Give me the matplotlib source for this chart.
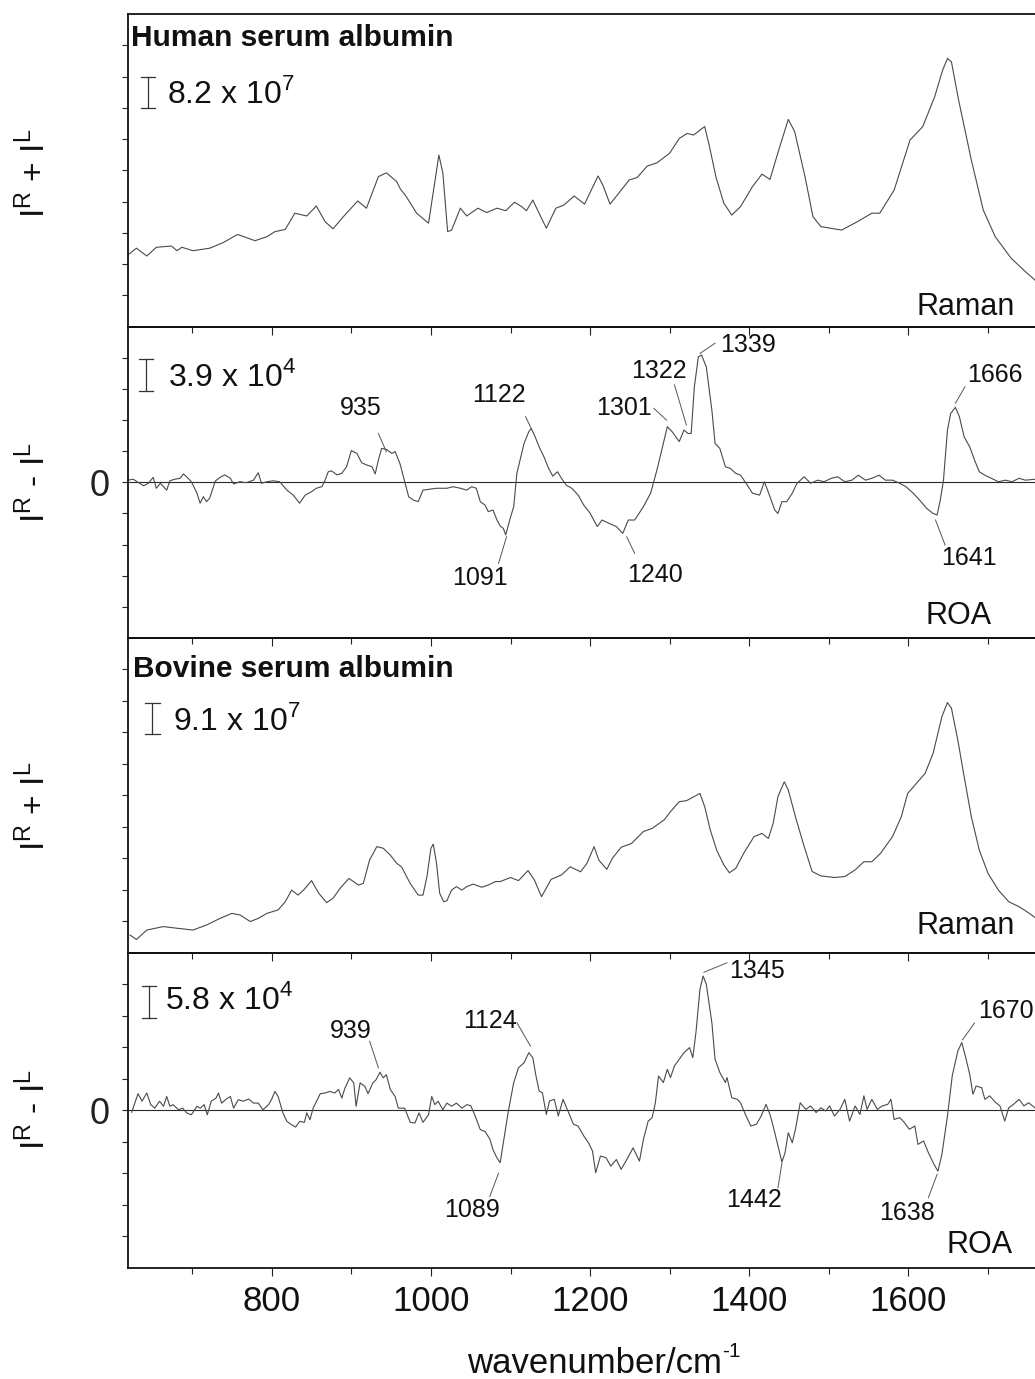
import matplotlib
matplotlib.use('Agg')
import matplotlib.pyplot as plt

# ---------------- data ----------------
# Human serum albumin, Raman (I^R + I^L), arbitrary units (one tick = 1)
hsa_raman_x = [619, 630, 643, 655, 674, 681, 687, 701, 722, 739, 757, 779, 794, 804, 817, 829, 844, 856, 867, 877,
               890, 908, 919, 934, 944, 957, 961, 969, 982, 997, 1004, 1010, 1015, 1021, 1026, 1037, 1045, 1059, 1070,
               1083, 1094, 1105, 1114, 1120, 1128, 1134, 1145, 1157, 1167, 1180, 1193, 1210, 1216, 1225, 1236, 1249,
               1259, 1272, 1284, 1300, 1312, 1322, 1330, 1344, 1350, 1358, 1368, 1378, 1389, 1404, 1416, 1426, 1437,
               1449, 1457, 1470, 1480, 1490, 1516, 1536, 1554, 1564, 1582, 1602, 1618, 1633, 1643, 1649, 1654, 1663,
               1679, 1694, 1709, 1729, 1747, 1759]
hsa_raman_y = [2.29, 2.51, 2.26, 2.54, 2.58, 2.43, 2.54, 2.43, 2.51, 2.69, 2.95, 2.75, 2.88, 3.04, 3.11, 3.63, 3.54,
               3.86, 3.36, 3.13, 3.52, 4.02, 3.79, 4.80, 4.92, 4.64, 4.43, 4.16, 3.63, 3.31, 4.48, 5.49, 4.91, 3.04,
               3.09, 3.79, 3.54, 3.79, 3.65, 3.79, 3.71, 3.98, 3.84, 3.71, 4.05, 3.73, 3.15, 3.79, 3.89, 4.18, 3.92,
               4.82, 4.53, 3.92, 4.27, 4.69, 4.77, 5.14, 5.24, 5.55, 6.02, 6.18, 6.13, 6.40, 5.76, 4.80, 3.95, 3.57,
               3.84, 4.48, 4.88, 4.71, 5.65, 6.63, 6.24, 4.80, 3.52, 3.20, 3.09, 3.36, 3.63, 3.63, 4.37, 5.97, 6.40,
               7.36, 8.21, 8.58, 8.47, 7.25, 5.33, 3.73, 2.88, 2.19, 1.76, 1.49]

# Human serum albumin, ROA (I^R - I^L), one tick = 1
hsa_roa_x = [619, 626, 632, 639, 645, 651, 655, 660, 664, 668, 672, 678, 685, 689, 693, 699, 706, 710, 714, 718, 722,
             729, 735, 741, 748, 752, 760, 768, 777, 783, 787, 794, 802, 810, 819, 827, 835, 842, 850, 856, 863, 867,
             871, 875, 882, 888, 894, 900, 907, 913, 919, 926, 930, 934, 938, 944, 951, 955, 961, 967, 972, 978, 984,
             990, 999, 1007, 1020, 1028, 1037, 1045, 1051, 1057, 1062, 1068, 1072, 1078, 1083, 1087, 1091, 1094,
             1099, 1104, 1108, 1112, 1117, 1123, 1126, 1130, 1136, 1142, 1147, 1153, 1159, 1164, 1170, 1177, 1185,
             1192, 1200, 1209, 1215, 1224, 1233, 1241, 1248, 1256, 1267, 1276, 1284, 1291, 1297, 1303, 1312, 1318,
             1323, 1327, 1331, 1336, 1340, 1346, 1353, 1357, 1363, 1370, 1376, 1383, 1389, 1396, 1404, 1413, 1419,
             1426, 1432, 1436, 1441, 1447, 1454, 1460, 1469, 1477, 1486, 1494, 1503, 1511, 1520, 1529, 1537, 1546,
             1554, 1563, 1571, 1580, 1589, 1597, 1606, 1614, 1623, 1631, 1636, 1640, 1644, 1649, 1653, 1659, 1664,
             1670, 1677, 1683, 1689, 1696, 1704, 1713, 1722, 1730, 1739, 1747, 1759]
hsa_roa_y = [0.07, 0.10, 0.00, -0.11, -0.03, 0.16, -0.19, -0.03, -0.14, -0.25, 0.05, 0.10, 0.13, 0.27, 0.18, 0.02,
             -0.35, -0.67, -0.46, -0.62, -0.51, 0.04, 0.16, 0.24, 0.13, -0.05, 0.02, -0.01, 0.07, 0.31, -0.03, 0.02,
             0.05, 0.02, -0.25, -0.41, -0.67, -0.41, -0.30, -0.19, -0.14, 0.07, 0.34, 0.37, 0.24, 0.29, 0.50, 1.02,
             0.93, 0.63, 0.56, 0.50, 0.27, 0.72, 1.09, 1.06, 0.93, 0.99, 0.61, 0.02, -0.46, -0.57, -0.62, -0.25,
             -0.22, -0.19, -0.19, -0.14, -0.19, -0.25, -0.14, -0.19, -0.62, -0.73, -0.94, -0.89, -1.21, -1.40,
             -1.48, -1.69, -1.21, -0.78, 0.29, 0.72, 1.25, 1.63, 1.73, 1.52, 1.14, 0.82, 0.50, 0.20, 0.34, 0.13,
             -0.09, -0.19, -0.41, -0.73, -0.99, -1.42, -1.21, -1.32, -1.42, -1.64, -1.21, -1.21, -0.78, -0.35,
             0.40, 1.14, 1.79, 1.63, 1.31, 1.68, 1.57, 1.57, 3.07, 4.03, 4.09, 3.71, 2.32, 1.25, 1.09, 0.50, 0.45,
             0.29, 0.23, -0.03, -0.35, -0.41, 0.02, -0.46, -0.89, -1.00, -0.62, -0.62, -0.35, -0.03, 0.18, -0.03,
             0.07, 0.02, 0.13, 0.18, 0.02, 0.07, 0.23, 0.07, 0.13, 0.23, 0.07, 0.07, -0.03, -0.14, -0.35, -0.57,
             -0.84, -1.00, -1.05, -0.57, 0.07, 1.68, 2.21, 2.41, 2.11, 1.46, 1.14, 0.72, 0.34, 0.23, 0.13, 0.02,
             0.07, 0.02, 0.13, 0.07, 0.10]

# Bovine serum albumin, Raman
bsa_raman_x = [622, 630, 643, 664, 680, 701, 718, 735, 750, 760, 773, 783, 794, 808, 817, 825, 833, 840, 850, 859,
               869, 877, 886, 897, 909, 915, 923, 932, 940, 949, 957, 963, 974, 984, 990, 995, 1000, 1003, 1007, 1011,
               1016, 1020, 1026, 1032, 1039, 1045, 1053, 1064, 1072, 1081, 1087, 1100, 1110, 1122, 1130, 1139, 1151,
               1164, 1175, 1188, 1196, 1205, 1211, 1221, 1228, 1239, 1252, 1267, 1278, 1293, 1301, 1312, 1321, 1327,
               1338, 1344, 1351, 1359, 1368, 1375, 1383, 1393, 1406, 1416, 1424, 1430, 1436, 1444, 1449, 1458, 1469,
               1479, 1490, 1507, 1520, 1533, 1544, 1554, 1565, 1580, 1591, 1599, 1610, 1621, 1631, 1642, 1649, 1654,
               1662, 1670, 1679, 1689, 1700, 1713, 1726, 1739, 1749, 1759]
bsa_raman_y = [0.56, 0.42, 0.72, 0.83, 0.78, 0.72, 0.88, 1.09, 1.25, 1.20, 0.99, 1.09, 1.25, 1.36, 1.62, 1.99, 1.83,
               1.99, 2.29, 1.89, 1.59, 1.73, 2.05, 2.36, 2.15, 2.20, 2.95, 3.37, 3.32, 3.10, 2.84, 2.73, 2.20, 1.83,
               1.83, 2.42, 3.32, 3.45, 2.84, 1.89, 1.62, 1.65, 1.99, 2.10, 1.99, 2.10, 2.18, 2.08, 2.15, 2.26, 2.26,
               2.39, 2.29, 2.61, 2.31, 1.78, 2.33, 2.47, 2.73, 2.57, 2.84, 3.37, 2.94, 2.65, 3.00, 3.35, 3.47, 3.85,
               3.95, 4.22, 4.48, 4.80, 4.83, 4.91, 5.06, 4.64, 3.90, 3.26, 2.79, 2.54, 2.68, 3.16, 3.69, 3.79, 3.63,
               4.11, 4.96, 5.43, 5.17, 4.32, 3.37, 2.58, 2.44, 2.39, 2.42, 2.63, 2.89, 2.89, 3.16, 3.69, 4.32, 5.06,
               5.38, 5.70, 6.34, 7.50, 7.95, 7.77, 6.76, 5.59, 4.32, 3.26, 2.52, 1.99, 1.62, 1.46, 1.30, 1.12]

# Bovine serum albumin, ROA
bsa_roa_x = [624, 628, 632, 637, 643, 648, 653, 659, 664, 668, 672, 676, 683, 688, 693, 699, 706, 710, 715, 719, 724,
             730, 733, 737, 743, 748, 752, 758, 764, 771, 777, 783, 789, 796, 800, 804, 808, 814, 819, 825, 830, 835,
             841, 844, 848, 852, 861, 867, 873, 879, 884, 888, 892, 898, 903, 906, 911, 917, 921, 927, 931, 936, 940,
             944, 949, 955, 959, 967, 974, 980, 985, 990, 997, 1001, 1005, 1009, 1015, 1020, 1026, 1032, 1039, 1045,
             1050, 1055, 1062, 1068, 1074, 1078, 1083, 1087, 1091, 1097, 1104, 1110, 1117, 1123, 1128, 1132, 1136,
             1140, 1145, 1149, 1155, 1160, 1166, 1173, 1179, 1185, 1192, 1198, 1203, 1207, 1213, 1220, 1226, 1233,
             1239, 1245, 1254, 1262, 1267, 1273, 1278, 1282, 1286, 1292, 1297, 1301, 1306, 1312, 1318, 1325, 1329,
             1333, 1338, 1342, 1346, 1353, 1357, 1363, 1370, 1372, 1378, 1385, 1389, 1396, 1402, 1409, 1415, 1421,
             1426, 1430, 1436, 1441, 1445, 1449, 1454, 1458, 1464, 1471, 1477, 1484, 1490, 1496, 1501, 1507, 1514,
             1520, 1526, 1533, 1539, 1544, 1548, 1554, 1561, 1567, 1574, 1578, 1582, 1589, 1595, 1601, 1608, 1612,
             1619, 1625, 1631, 1637, 1642, 1649, 1655, 1662, 1667, 1672, 1677, 1681, 1685, 1692, 1696, 1702, 1709,
             1715, 1721, 1726, 1732, 1739, 1745, 1751, 1759]
bsa_roa_y = [-0.06, 0.23, 0.53, 0.29, 0.55, 0.18, 0.07, 0.29, 0.13, 0.44, 0.13, 0.18, 0.02, 0.07, -0.08, -0.14, 0.13,
             0.07, 0.18, -0.14, 0.29, 0.39, 0.55, 0.23, 0.36, 0.44, 0.07, 0.34, 0.29, 0.36, 0.23, 0.23, 0.02, 0.18,
             0.36, 0.60, 0.44, -0.08, -0.35, -0.46, -0.53, -0.35, -0.38, -0.08, -0.30, 0.07, 0.53, 0.55, 0.60, 0.55,
             0.66, 0.39, 0.71, 1.03, 0.87, 0.13, 0.87, 0.76, 0.53, 0.87, 0.97, 1.21, 1.03, 1.13, 0.66, 0.44, 0.07,
             0.07, -0.38, -0.40, -0.08, -0.38, -0.14, 0.44, 0.18, 0.29, 0.02, 0.23, 0.13, 0.23, 0.07, 0.18, 0.15,
             -0.14, -0.61, -0.67, -0.91, -1.25, -1.51, -1.66, -1.03, -0.07, 0.88, 1.35, 1.51, 1.83, 1.67, 1.09, 0.61,
             0.56, -0.13, 0.30, 0.35, -0.18, 0.35, -0.07, -0.44, -0.50, -0.81, -1.03, -1.29, -1.98, -1.45, -1.50,
             -1.77, -1.56, -1.87, -1.61, -1.19, -1.61, -0.92, -0.34, -0.23, 0.24, 1.09, 0.88, 1.30, 1.04, 1.41, 1.62,
             1.83, 1.99, 1.67, 2.47, 3.84, 4.26, 4.00, 2.78, 1.62, 1.20, 0.88, 1.04, 0.40, 0.35, 0.24, -0.18, -0.50,
             -0.44, -0.18, 0.19, -0.13, -0.50, -1.13, -1.64, -1.34, -0.71, -1.03, -0.60, 0.24, 0.03, 0.14, -0.07,
             0.08, -0.02, 0.14, -0.18, 0.03, 0.35, -0.34, 0.14, -0.13, 0.46, 0.03, 0.35, 0.03, 0.14, 0.19, 0.35,
             -0.29, -0.23, -0.39, -0.60, -0.50, -1.08, -0.97, -1.34, -1.66, -1.93, -1.40, -0.18, 1.09, 1.88, 2.15,
             1.67, 1.14, 0.51, 0.77, 0.72, 0.35, 0.46, 0.26, 0.14, -0.34, 0.08, 0.19, 0.35, 0.14, 0.24, 0.08]

# peak labels: text, label x, label baseline y, leader line start/end
hsa_labels = [("935", 912, 2.16, 934, 1.57, 944, 0.98),
              ("1122", 1085, 2.59, 1119, 2.11, 1126, 1.73),
              ("1301", 1242, 2.16, 1280, 2.38, 1296, 2.00),
              ("1322", 1286, 3.34, 1306, 3.13, 1321, 1.84),
              ("1339", 1398, 4.20, 1357, 4.47, 1338, 4.14),
              ("1666", 1708, 3.23, 1671, 3.07, 1659, 2.54),
              ("1091", 1061, -3.30, 1085, -2.60, 1095, -1.75),
              ("1240", 1281, -3.19, 1256, -2.28, 1246, -1.75),
              ("1641", 1676, -2.66, 1646, -2.01, 1634, -1.21)]
bsa_labels = [("939", 899, 2.30, 923, 2.19, 934, 1.35),
              ("1124", 1074, 2.62, 1108, 2.78, 1125, 2.04),
              ("1345", 1410, 4.20, 1372, 4.68, 1343, 4.38),
              ("1670", 1713, 2.93, 1683, 2.77, 1668, 2.24),
              ("1089", 1051, -3.37, 1074, -2.73, 1085, -1.99),
              ("1442", 1406, -3.05, 1436, -2.46, 1441, -1.67),
              ("1638", 1598, -3.47, 1625, -2.77, 1636, -2.03)]

titles = ["Human serum albumin", None, "Bovine serum albumin", None]
scale_texts = [r"8.2 x 10$^{\mathregular{7}}$", r"3.9 x 10$^{\mathregular{4}}$",
               r"9.1 x 10$^{\mathregular{7}}$", r"5.8 x 10$^{\mathregular{4}}$"]
kind_texts = ["Raman", "ROA", "Raman", "ROA"]
ylabels = [r"I$^{\mathregular{R}}$ + I$^{\mathregular{L}}$", r"I$^{\mathregular{R}}$ - I$^{\mathregular{L}}$",
           r"I$^{\mathregular{R}}$ + I$^{\mathregular{L}}$", r"I$^{\mathregular{R}}$ - I$^{\mathregular{L}}$"]
xticks_major = [800, 1000, 1200, 1400, 1600]
xticks_minor = [700, 900, 1100, 1300, 1500, 1700]
xlabel_main = "wavenumber/cm"
xlabel_sup = "-1"

# ---------------- drawing ----------------
REG = ['Liberation Sans', 'DejaVu Sans']
plt.rcParams['font.family'] = REG

W, H = 1035, 1379
fig = plt.figure(figsize=(W / 100, H / 100), dpi=100)
fig.patch.set_facecolor('white')

panels = [(14, 326.7), (326.7, 638), (638, 952.7), (952.7, 1268)]
series = [(hsa_raman_x, hsa_raman_y), (hsa_roa_x, hsa_roa_y),
          (bsa_raman_x, bsa_raman_y), (bsa_roa_x, bsa_roa_y)]
is_roa = [False, True, False, True]
ylab_centres = [173, 483, 806, 1110]

title_pos = [(623, 8.98), None, (626, 8.77), None]
bar_pos = [(644.5, 7.0, 8.0), (641.7, 2.95, 3.95), (650, 6.95, 7.95), (645.8, 2.93, 3.93)]
scale_pos = [(668, 7.15), (670, 3.09), (676, 7.08), (666, 3.20)]
kind_pos = [(1610, 0.37), (1621, -4.55), (1610, 0.59), (1648, -4.52)]
XMIN, XMAX = 619, 1759
LINE_C = '#4a4a4a'
TXT_C = '#111111'

axes = []
for i, (top, bot) in enumerate(panels):
    ax = fig.add_axes([127.7 / W, 1 - bot / H, 1 - 127.7 / W, (bot - top) / H])
    ax.patch.set_visible(False)
    axes.append(ax)
    xs, ys = series[i]
    ax.plot(xs, ys, color=LINE_C, lw=0.8, solid_joinstyle='round')
    ax.set_xlim(XMIN, XMAX)
    if is_roa[i]:
        ax.set_ylim(-5, 5)
        ax.axhline(0, color='#2a2a2a', lw=0.8, zorder=1)
        ax.set_yticks([-4, -3, -2, -1, 0, 1, 2, 3, 4])
        ax.set_yticklabels(['', '', '', '', '0', '', '', '', ''])
    else:
        ax.set_ylim(0, 10)
        ax.set_yticks(range(1, 10))
        ax.set_yticklabels([])
    for lab in ax.get_yticklabels():
        lab.set_fontsize(26)
        lab.set_color(TXT_C)
    ax.tick_params(axis='y', direction='out', length=4, width=0.8, pad=9, colors='#222222')
    ax.set_xticks(xticks_major)
    ax.set_xticks(xticks_minor, minor=True)
    ax.tick_params(axis='x', which='major', direction='out', length=6, width=0.8, pad=6, colors='#222222')
    ax.tick_params(axis='x', which='minor', direction='out', length=4, width=0.8, colors='#222222')
    if i < 3:
        ax.set_xticklabels([])
    else:
        ax.set_xticklabels([str(v) for v in xticks_major])
        for lab in ax.get_xticklabels():
            lab.set_fontsize(25)
            lab.set_color(TXT_C)
    for s in ['top', 'bottom', 'left']:
        ax.spines[s].set_linewidth(1.3)
        ax.spines[s].set_color('#111111')
    ax.spines['right'].set_visible(False)

    # scale bar
    bx, by0, by1 = bar_pos[i]
    ax.plot([bx, bx], [by0, by1], color='#333333', lw=0.9)
    ax.plot([bx - 9, bx + 9], [by0, by0], color='#333333', lw=0.9)
    ax.plot([bx - 9, bx + 9], [by1, by1], color='#333333', lw=0.9)
    sx, sy = scale_pos[i]
    ax.text(sx, sy, scale_texts[i], fontsize=23, ha='left', va='baseline', color=TXT_C)

    kx, ky = kind_pos[i]
    ax.text(kx, ky, kind_texts[i], fontsize=22, ha='left', va='baseline', color=TXT_C)

    if titles[i]:
        tx, ty = title_pos[i]
        ax.text(tx, ty, titles[i], fontsize=21.5, fontweight='bold', ha='left', va='baseline', color=TXT_C)

    fig.text(35 / W, 1 - ylab_centres[i] / H, ylabels[i], rotation=90, fontsize=24,
             ha='center', va='center', color=TXT_C)

for ax, labels in [(axes[1], hsa_labels), (axes[3], bsa_labels)]:
    for (txt, lx, ly, x1, y1, x2, y2) in labels:
        ha = 'left' if txt == '1670' else 'center'
        if txt == '1670':
            lx = 1687
        ax.text(lx, ly, txt, fontsize=18, ha=ha, va='baseline', color=TXT_C)
        ax.plot([x1, x2], [y1, y2], color='#555555', lw=0.7)

# x label with a raised hyphen superscript
xl = fig.text((604 - 10) / W, 1 - 1373 / H, xlabel_main, fontsize=25, ha='center', va='baseline', color=TXT_C)
fig.canvas.draw()
bb = xl.get_window_extent(renderer=fig.canvas.get_renderer())
fig.text((bb.x1 + 1) / W, 1 - 1357 / H, xlabel_sup, fontsize=15, ha='left', va='baseline', color=TXT_C)

fig.savefig('out.png', dpi=100, facecolor='white')
